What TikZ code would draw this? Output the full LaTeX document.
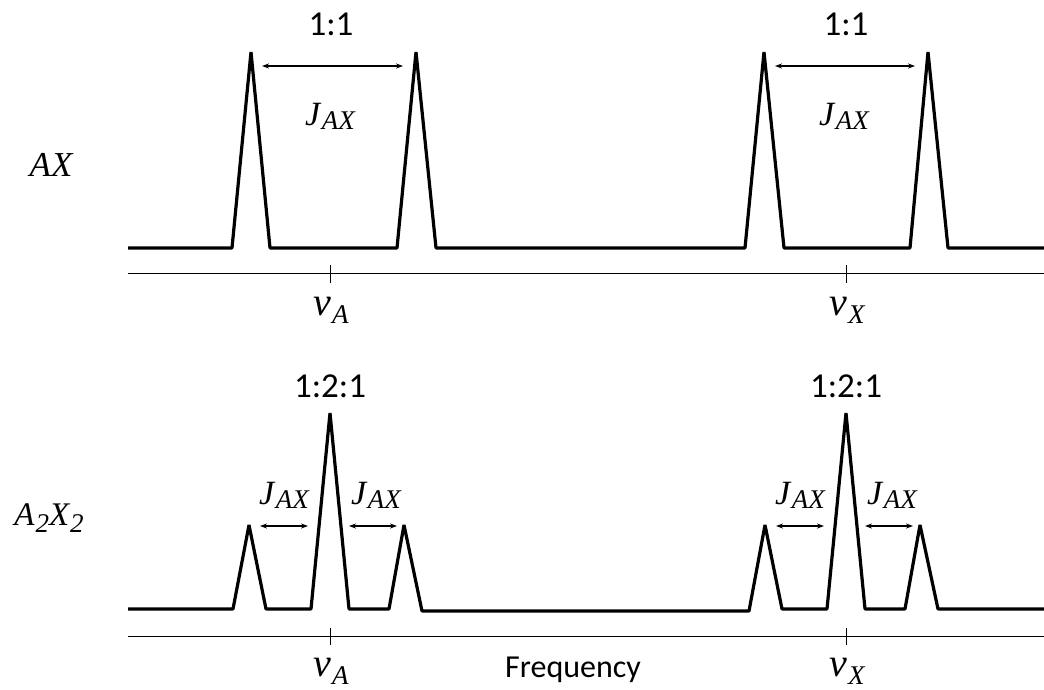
\documentclass[tikz,border=0pt]{standalone}
\usepackage{fontspec}
\setmainfont{Carlito}
\newfontfamily\mfont{Liberation Serif}
\usetikzlibrary{arrows.meta}
\newcommand\mysub[3]{\raisebox{-#2}{\fontsize{#1}{#1}\selectfont #3}}
\newcommand\jax{{\mfont\itshape\fontsize{34}{36}\selectfont J\kern1.5pt\mysub{27}{4pt}{AX}}}
\newcommand\nuof[1]{{\mfont\itshape\fontsize{40}{42}\selectfont ν\kern1pt\mysub{27}{8pt}{#1}}}
\begin{document}
\begin{tikzpicture}[x=1pt,y=-1pt,
  spec/.style={line width=3.2pt,line join=bevel},
  axisline/.style={line width=0.9pt},
  tick/.style={line width=0.9pt},
  jarrow/.style={line width=1.2pt,{Stealth[length=7pt,width=5pt]}-{Stealth[length=7pt,width=5pt]}},
  ratio/.style={font=\fontsize{35}{38}\selectfont},
  jlab/.style={inner sep=0pt},
  nulab/.style={inner sep=0pt},
  rowlab/.style={inner sep=0pt},
  freq/.style={font=\fontsize{32}{34}\selectfont}]
\useasboundingbox (0,0) rectangle (1044,689);
% ---------- top row: AX ----------
\coordinate (pA1) at (251,52);
\coordinate (pA2) at (416,52);
\coordinate (pX1) at (764,52);
\coordinate (pX2) at (928,52);
\draw[spec] (128,248) -- (232,248) -- (pA1) -- (270,248) -- (397,248) -- (pA2) -- (436,248)
  -- (745,248) -- (pX1) -- (784,248) -- (910,248) -- (pX2) -- (948,248) -- (1044,248);
\coordinate (ax1L) at (128,273);
\coordinate (ax1R) at (1044,273);
\draw[axisline] (ax1L) -- (ax1R);
\draw[tick] (330,265) -- (330,283);
\draw[tick] (846,265) -- (846,283);
\coordinate (a1s) at (262,66);
\coordinate (a1e) at (403,66);
\coordinate (a2s) at (775,66);
\coordinate (a2e) at (915,66);
\draw[jarrow] (a1s) -- (a1e);
\draw[jarrow] (a2s) -- (a2e);
\node[ratio] (r1) at (331,24) {1:1};
\node[ratio] (r2) at (846,24) {1:1};
\node[jlab] (j1) at (330,116) {\jax};
\node[jlab] (j2) at (844,116) {\jax};
\node[rowlab] (lAX) at (51,165) {\mfont\itshape\fontsize{35}{38}\selectfont AX};
\node[nulab] (nuA1) at (331,310) {\nuof{A}};
\node[nulab] (nuX1) at (847,310) {\nuof{X}};
% ---------- bottom row: A2X2 ----------
\coordinate (qA1) at (249,525);
\coordinate (qA2) at (330,413);
\coordinate (qA3) at (404,525);
\coordinate (qX1) at (765,525);
\coordinate (qX2) at (846,413);
\coordinate (qX3) at (920,525);
\draw[spec] (128,609) -- (233,609) -- (qA1) -- (266,609) -- (311,609) -- (qA2) -- (349,609)
  -- (389,609) -- (qA3) -- (422,611) -- (749,611) -- (qX1) -- (782,609) -- (827,609)
  -- (qX2) -- (865,609) -- (905,609) -- (qX3) -- (938,609) -- (1044,609);
\coordinate (ax2L) at (128,636);
\coordinate (ax2R) at (1044,636);
\draw[axisline] (ax2L) -- (ax2R);
\draw[tick] (330,628) -- (330,645);
\draw[tick] (846,628) -- (846,645);
\coordinate (b1s) at (260,526);
\coordinate (b1e) at (308,526);
\coordinate (b2s) at (349,526);
\coordinate (b2e) at (397,526);
\coordinate (b3s) at (776,526);
\coordinate (b3e) at (824,526);
\coordinate (b4s) at (865,526);
\coordinate (b4e) at (913,526);
\draw[jarrow] (b1s) -- (b1e);
\draw[jarrow] (b2s) -- (b2e);
\draw[jarrow] (b3s) -- (b3e);
\draw[jarrow] (b4s) -- (b4e);
\node[ratio] (r3) at (330,386) {1:2:1};
\node[ratio] (r4) at (846,386) {1:2:1};
\node[jlab] (j3) at (284,495) {\jax};
\node[jlab] (j4) at (376,495) {\jax};
\node[jlab] (j5) at (800,495) {\jax};
\node[jlab] (j6) at (892,495) {\jax};
\node[rowlab] (lA2X2) at (49,518) {\mfont\itshape\fontsize{33}{36}\selectfont A\kern1pt\mysub{27}{7pt}{2}X\kern1pt\mysub{27}{7pt}{2}};
\node[nulab] (nuA2) at (331,671) {\nuof{A}};
\node[nulab] (nuX2) at (847,671) {\nuof{X}};
\node[freq] (fq) at (573,670) {Frequency};
\end{tikzpicture}
\end{document}
